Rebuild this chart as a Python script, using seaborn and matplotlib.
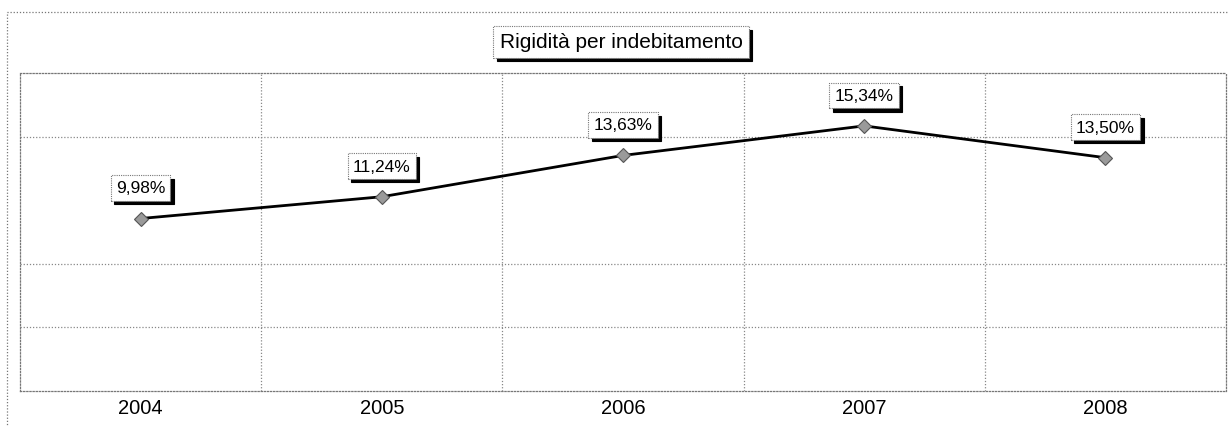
import pandas as pd
import numpy as np
import matplotlib
matplotlib.use("Agg")
import matplotlib.pyplot as plt
import seaborn as sns
from matplotlib.patches import Rectangle

# --- Dati ---
anni = ["2004", "2005", "2006", "2007", "2008"]
valori = [9.98, 11.24, 13.63, 15.34, 13.50]
etichette = ["9,98%", "11,24%", "13,63%", "15,34%", "13,50%"]
titolo = "Rigidità per indebitamento"

df = pd.DataFrame({"anno": anni, "valore": valori})

sns.set_theme(style="white")
plt.rcParams['font.family'] = ['Liberation Sans', 'DejaVu Sans']

fig = plt.figure(figsize=(12.29, 4.27), dpi=100)
ax = fig.add_axes([20 / 1229, 35 / 427, 1206 / 1229, 318 / 427])

GRID = dict(color='#888888', linestyle=(0, (1, 1.5)), linewidth=0.9)

# griglia orizzontale (Excel-like, una linea mancante come nell'originale)
ymax = 18.4
step = ymax / 5
for k in [1, 2, 4]:
    ax.axhline(step * k, **GRID, zorder=0)
for xb in np.arange(0.5, 4.5, 1):
    ax.axvline(xb, **GRID, zorder=0)

sns.lineplot(data=df, x="anno", y="valore", ax=ax, color='black', linewidth=2,
             marker='D', markersize=7, markerfacecolor='#9a9a9a',
             markeredgecolor='#555555', markeredgewidth=0.8, zorder=3)

ax.set_xlim(-0.5, 4.5)
ax.set_ylim(0, ymax)
ax.set_yticks([])
ax.set_xlabel("")
ax.set_ylabel("")
ax.set_xticks(range(len(anni)))
ax.set_xticklabels(anni, fontsize=14.5, color='black')
ax.tick_params(axis='x', which='major', length=0, pad=5)
ax.set_xticks(np.arange(-0.5, 5, 1), minor=True)
ax.tick_params(axis='x', which='minor', length=10, width=0.8, color='#999999', direction='out')

for side in ['left', 'top', 'bottom', 'right']:
    ax.spines[side].set_linestyle((0, (1, 1.5)))
    ax.spines[side].set_color('#777777')
    ax.spines[side].set_linewidth(0.9)

# etichette con ombra
for i, (v, lab) in enumerate(zip(valori, etichette)):
    ax.annotate(lab, xy=(i, v), xytext=(0 + 2.5, 22 - 2.5), textcoords='offset points',
                ha='center', va='center', fontsize=12.5, color='black',
                bbox=dict(boxstyle='square,pad=0.3', fc='black', ec='black', lw=0.8), zorder=4)
    ax.annotate(lab, xy=(i, v), xytext=(0, 22), textcoords='offset points',
                ha='center', va='center', fontsize=12.5, color='black',
                bbox=dict(boxstyle='square,pad=0.3', fc='white', ec='#777777',
                          lw=0.8, linestyle=(0, (1, 1))), zorder=5)

# titolo con ombra
tx, ty = 621 / 1229, 1 - 43 / 427
fig.text(tx + 0.0028, ty - 0.008, titolo, ha='center', va='center',
         fontsize=15, color='black',
         bbox=dict(boxstyle='square,pad=0.3', fc='black', ec='black', lw=0.8))
fig.text(tx, ty, titolo, ha='center', va='center', fontsize=15,
         color='black',
         bbox=dict(boxstyle='square,pad=0.3', fc='white', ec='#777777', lw=0.8,
                   linestyle=(0, (1, 1))))

# bordo esterno tratteggiato
fig.patches.append(Rectangle((7 / 1229, -0.02), 1.02, 1 - 13 / 427 + 0.02,
                             transform=fig.transFigure, fill=False,
                             ec='#777777', lw=0.9, linestyle=(0, (1, 1.5))))

fig.savefig("out.png", dpi=100)
